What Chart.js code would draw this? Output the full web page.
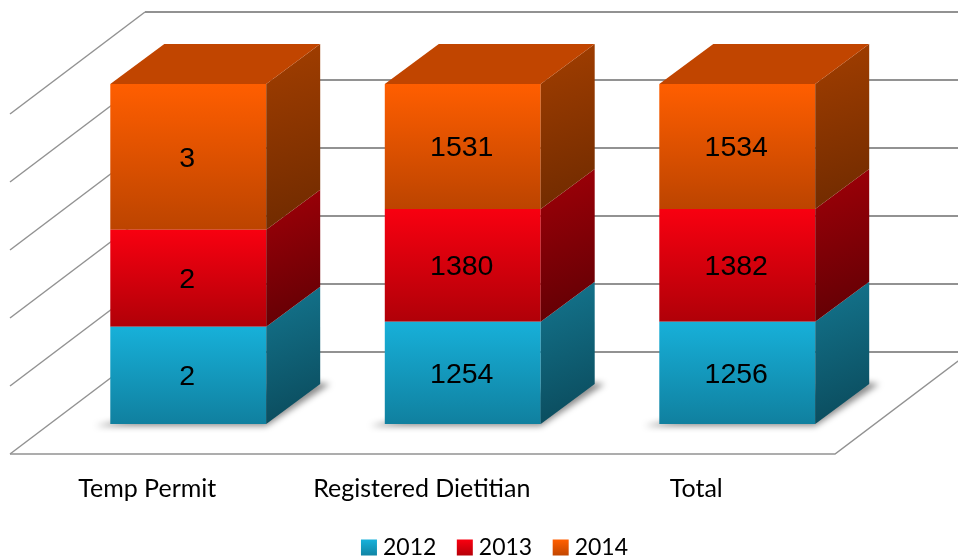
<!DOCTYPE html>
<html>
<head>
<meta charset="utf-8">
<style>
  html, body { margin: 0; padding: 0; background: #fff; }
  canvas { display: block; }
</style>
<script src="https://cdn.jsdelivr.net/npm/chart.js@4/dist/chart.umd.min.js"></script>
</head>
<body>
<canvas id="chart" width="958" height="560"></canvas>
<script>
const categories = ['Temp Permit', 'Registered Dietitian', 'Total'];
const years = ['2012', '2013', '2014'];
const values2012 = [2, 1254, 1256];
const values2013 = [2, 1380, 1382];
const values2014 = [3, 1531, 1534];
const yTicks = [0, 20, 40, 60, 80, 100];

const series = [values2012, values2013, values2014];

// 100% stacked, so each value becomes its share of the column
const shares = series.map(vals => vals.map((v, i) =>
  v / (values2012[i] + values2013[i] + values2014[i]) * 100));

// front face top/bottom, side face start/end, for each series
const faceColors = [
  { top: '#17b0d9', bottom: '#10809f', sideA: '#14768f', sideB: '#0a4859' },
  { top: '#f80010', bottom: '#b00008', sideA: '#a00008', sideB: '#5e0004' },
  { top: '#ff5e00', bottom: '#bc4400', sideA: '#a23e00', sideB: '#6e2a00' }
];
const roofColor = '#c14500';

// depth of the columns and of the floor, in pixels
const barDepth = { x: 54, y: -40 };
const floorFront = { x: 10, dy: 30 };
const floorBack = { x: 145, dy: -72 };
const floorRight = 835;

function barGradient(ctx) {
  const chart = ctx.chart;
  const y = chart.scales.y;
  if (!y || ctx.dataIndex === undefined) return faceColors[ctx.datasetIndex].top;
  let base = 0;
  for (let s = 0; s < ctx.datasetIndex; s++) base += shares[s][ctx.dataIndex];
  const g = chart.ctx.createLinearGradient(0, y.getPixelForValue(base + shares[ctx.datasetIndex][ctx.dataIndex]), 0, y.getPixelForValue(base));
  g.addColorStop(0, faceColors[ctx.datasetIndex].top);
  g.addColorStop(1, faceColors[ctx.datasetIndex].bottom);
  return g;
}

function poly(ctx, pts) {
  ctx.beginPath();
  pts.forEach((p, i) => i ? ctx.lineTo(p[0], p[1]) : ctx.moveTo(p[0], p[1]));
  ctx.closePath();
}

const box3d = {
  id: 'box3d',
  afterLayout(chart) {
    // legend sits right of the plot centre and lower than the default spot
    chart.legend.left += 34.5;
    chart.legend.right += 34.5;
    chart.legend.top += 9;
    chart.legend.bottom += 9;
  },
  beforeDatasetsDraw(chart) {
    const ctx = chart.ctx;
    const y = chart.scales.y;
    const farRight = floorRight + floorBack.x - floorFront.x;

    ctx.save();
    ctx.strokeStyle = '#929292';
    ctx.lineWidth = 1.5;
    yTicks.forEach(t => {
      const py = y.getPixelForValue(t);
      ctx.beginPath();
      ctx.moveTo(floorFront.x, py + floorFront.dy);
      ctx.lineTo(floorBack.x, py + floorBack.dy);
      ctx.stroke();
      ctx.lineWidth = 2;
      ctx.beginPath();
      ctx.moveTo(floorBack.x, py + floorBack.dy);
      ctx.lineTo(farRight, py + floorBack.dy);
      ctx.stroke();
      ctx.lineWidth = 1.5;
    });
    const py0 = y.getPixelForValue(0);
    ctx.beginPath();
    ctx.moveTo(floorFront.x, py0 + floorFront.dy);
    ctx.lineTo(floorRight, py0 + floorFront.dy);
    ctx.lineTo(farRight, py0 + floorBack.dy);
    ctx.stroke();
    ctx.restore();

    // soft shadow on the floor
    chart.getDatasetMeta(0).data.forEach(bar => {
      const l = bar.x - bar.width / 2;
      const r = bar.x + bar.width / 2;
      ctx.save();
      ctx.filter = 'blur(3px)';
      ctx.fillStyle = 'rgba(0,0,0,0.45)';
      poly(ctx, [[l - 15, bar.base + 2], [r, bar.base + 2], [r + barDepth.x + 10, bar.base + barDepth.y], [r + barDepth.x - 8, bar.base + barDepth.y - 2]]);
      ctx.fill();
      ctx.restore();
    });
  },
  afterDatasetsDraw(chart) {
    const ctx = chart.ctx;
    const last = chart.data.datasets.length - 1;
    chart.data.datasets.forEach((ds, s) => {
      chart.getDatasetMeta(s).data.forEach(bar => {
        const r = bar.x + bar.width / 2;
        const l = bar.x - bar.width / 2;
        const g = ctx.createLinearGradient(r, bar.y + barDepth.y, r + barDepth.x, bar.base);
        g.addColorStop(0, faceColors[s].sideA);
        g.addColorStop(1, faceColors[s].sideB);
        ctx.fillStyle = g;
        poly(ctx, [[r, bar.y], [r + barDepth.x, bar.y + barDepth.y], [r + barDepth.x, bar.base + barDepth.y], [r, bar.base]]);
        ctx.fill();
        if (s === last) {
          ctx.fillStyle = roofColor;
          poly(ctx, [[l, bar.y], [l + barDepth.x, bar.y + barDepth.y], [r + barDepth.x, bar.y + barDepth.y], [r, bar.y]]);
          ctx.fill();
        }
      });
    });

    ctx.save();
    ctx.fillStyle = '#000';
    ctx.font = '28.5px "Liberation Sans"';
    ctx.textAlign = 'center';
    ctx.textBaseline = 'middle';
    series.forEach((vals, s) => {
      chart.getDatasetMeta(s).data.forEach((bar, i) => {
        ctx.fillText(String(vals[i]), bar.x - 1, (bar.y + bar.base) / 2 + 2);
      });
    });
    ctx.restore();
  }
};

new Chart(document.getElementById('chart'), {
  type: 'bar',
  data: {
    labels: categories,
    datasets: years.map((year, s) => ({
      label: year,
      data: shares[s],
      backgroundColor: barGradient,
      barPercentage: 0.568,
      categoryPercentage: 1
    }))
  },
  options: {
    responsive: false,
    animation: false,
    layout: { padding: { left: 51, right: 83.5, top: 84, bottom: 0 } },
    scales: {
      x: {
        stacked: true,
        grid: { display: false },
        border: { display: false },
        afterFit(scale) { scale.height = 77; },
        ticks: {
          color: '#000',
          font: { family: 'Lato', size: 25 },
          padding: 42,
          labelOffset: -41,
          maxRotation: 0
        }
      },
      y: { stacked: true, display: false, min: 0, max: 100 }
    },
    plugins: {
      tooltip: { enabled: false },
      legend: {
        position: 'bottom',
        labels: {
          color: '#000',
          font: { family: 'Lato', size: 23 },
          usePointStyle: true,
          boxWidth: 5,
          boxHeight: 16,
          padding: 26,
          generateLabels(chart) {
            return years.map((year, s) => {
              const g = chart.ctx.createLinearGradient(0, 540, 0, 557);
              g.addColorStop(0, faceColors[s].top);
              g.addColorStop(1, faceColors[s].bottom);
              return { text: year, fillStyle: g, strokeStyle: 'transparent', lineWidth: 0, pointStyle: 'rect', datasetIndex: s };
            });
          }
        }
      }
    }
  },
  plugins: [box3d]
});
</script>
</body>
</html>
